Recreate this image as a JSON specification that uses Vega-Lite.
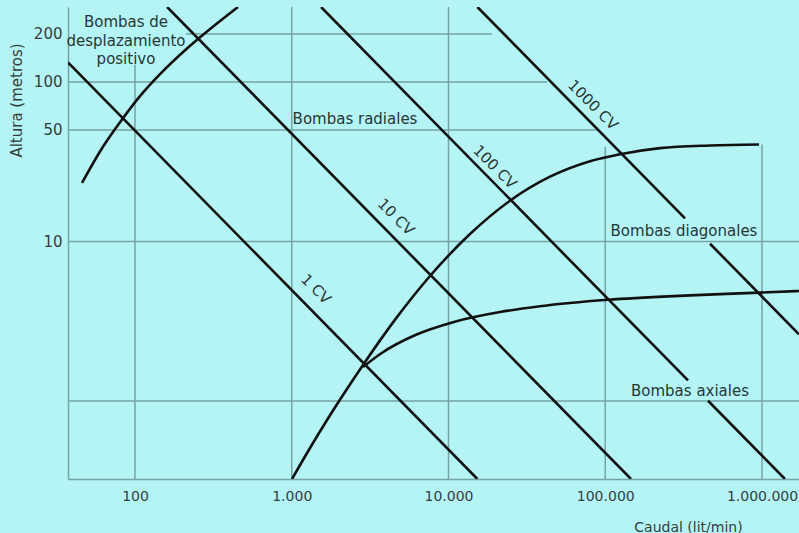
{
  "$schema": "https://vega.github.io/schema/vega-lite/v6.json",
  "width": 731,
  "height": 472,
  "autosize": {"type": "none"},
  "padding": {"left": 68, "top": 7, "right": 0, "bottom": 54},
  "background": "#b5f4f5",
  "config": {"view": {"stroke": null}, "font": "DejaVu Sans"},
  "datasets": {
    "vgrid": [
      {"q": 100, "h": 0.3243, "h2": 128},
      {"q": 1000, "h": 0.3243, "h2": 295.1},
      {"q": 10000, "h": 0.3243, "h2": 295.1},
      {"q": 100000, "h": 0.3243, "h2": 39.1},
      {"q": 1000000, "h": 0.3243, "h2": 40.58}
    ],
    "hgrid": [
      {"h": 200, "q": 211, "q2": 18950},
      {"h": 100, "q": 37.37, "q2": 42500},
      {"h": 50, "q": 37.37, "q2": 88600},
      {"h": 10, "q": 37.37, "q2": 1721900},
      {"h": 1, "q": 37.37, "q2": 1721900}
    ],
    "curves": [
      {"seg": "1 CV", "q": 37.37, "h": 132.6},
      {"seg": "1 CV", "q": 15280, "h": 0.3243},
      {"seg": "10 CV", "q": 160.3, "h": 295.1},
      {"seg": "10 CV", "q": 145900, "h": 0.3243},
      {"seg": "100 CV a", "q": 1538, "h": 295.1},
      {"seg": "100 CV a", "q": 337300, "h": 1.346},
      {"seg": "100 CV b", "q": 452400, "h": 1.0035},
      {"seg": "100 CV b", "q": 1400000, "h": 0.3243},
      {"seg": "1000 CV a", "q": 15280, "h": 295.1},
      {"seg": "1000 CV a", "q": 322800, "h": 13.97},
      {"seg": "1000 CV b", "q": 465900, "h": 9.68},
      {"seg": "1000 CV b", "q": 1721900, "h": 2.618},
      {"seg": "desplazamiento", "q": 45.9, "h": 23.27},
      {"seg": "desplazamiento", "q": 59.8, "h": 36.67},
      {"seg": "desplazamiento", "q": 82.6, "h": 58.12},
      {"seg": "desplazamiento", "q": 107.6, "h": 81.47},
      {"seg": "desplazamiento", "q": 144.4, "h": 111.9},
      {"seg": "desplazamiento", "q": 214.6, "h": 162.0},
      {"seg": "desplazamiento", "q": 287.9, "h": 207.0},
      {"seg": "desplazamiento", "q": 454, "h": 295.1},
      {"seg": "radiales", "q": 1004, "h": 0.3243},
      {"seg": "radiales", "q": 1307.6, "h": 0.5073},
      {"seg": "radiales", "q": 1679, "h": 0.7603},
      {"seg": "radiales", "q": 2186, "h": 1.139},
      {"seg": "radiales", "q": 2848, "h": 1.682},
      {"seg": "radiales", "q": 4626, "h": 3.295},
      {"seg": "radiales", "q": 7621, "h": 6.077},
      {"seg": "radiales", "q": 13715, "h": 11.14},
      {"seg": "radiales", "q": 24690, "h": 18.02},
      {"seg": "radiales", "q": 44410, "h": 25.48},
      {"seg": "radiales", "q": 79930, "h": 31.87},
      {"seg": "radiales", "q": 124200, "h": 35.26},
      {"seg": "radiales", "q": 223500, "h": 38.46},
      {"seg": "radiales", "q": 465900, "h": 39.99},
      {"seg": "radiales", "q": 957000, "h": 40.57},
      {"seg": "axiales", "q": 2848, "h": 1.634},
      {"seg": "axiales", "q": 3710, "h": 1.986},
      {"seg": "axiales", "q": 6203, "h": 2.6},
      {"seg": "axiales", "q": 10685, "h": 3.119},
      {"seg": "axiales", "q": 21310, "h": 3.609},
      {"seg": "axiales", "q": 38340, "h": 3.924},
      {"seg": "axiales", "q": 104100, "h": 4.31},
      {"seg": "axiales", "q": 318000, "h": 4.579},
      {"seg": "axiales", "q": 971000, "h": 4.782},
      {"seg": "axiales", "q": 1721900, "h": 4.894}
    ],
    "cvlabels": [
      {"text": "1 CV", "q": 1428, "h": 5.037},
      {"text": "10 CV", "q": 4624, "h": 14.24},
      {"text": "100 CV", "q": 19800, "h": 29.32},
      {"text": "1000 CV", "q": 83530, "h": 71.76}
    ],
    "labels": [
      {"text": "Bombas de\ndesplazamiento\npositivo", "q": 87.6, "h": 237},
      {"text": "Bombas radiales", "q": 2532, "h": 58.6},
      {"text": "Bombas diagonales", "q": 318000, "h": 11.64},
      {"text": "Bombas axiales", "q": 347300, "h": 1.155}
    ]
  },
  "layer": [
    {
      "data": {"name": "vgrid"},
      "mark": {"type": "rule", "color": "#76a3a4", "strokeWidth": 1.5},
      "encoding": {
        "x": {
          "field": "q", "type": "quantitative",
          "scale": {"type": "log", "domain": [37.37, 1721900], "nice": false},
          "axis": {
            "values": [100, 1000, 10000, 100000, 1000000],
            "labelExpr": "datum.value == 100 ? '100' : datum.value == 1000 ? '1.000' : datum.value == 10000 ? '10.000' : datum.value == 100000 ? '100.000' : '1.000.000'",
            "grid": false, "ticks": false,
            "domainColor": "#76a3a4", "domainWidth": 1.5,
            "labelFont": "DejaVu Sans", "labelFontSize": 14, "labelColor": "#333d3d",
            "labelPadding": 10, "labelFlush": false, "labelOverlap": false,
            "title": "Caudal (lit/min)", "titleFont": "DejaVu Sans", "titleFontSize": 14,
            "titleFontWeight": "normal", "titleColor": "#333d3d",
            "titleX": 620, "titleY": 48, "titleAlign": "center", "titleBaseline": "middle"
          }
        },
        "y": {
          "field": "h", "type": "quantitative",
          "scale": {"type": "log", "domain": [0.3243, 295.1], "nice": false},
          "axis": {
            "values": [10, 50, 100, 200], "format": "d",
            "grid": false, "ticks": false,
            "domainColor": "#76a3a4", "domainWidth": 1.5,
            "labelFont": "DejaVu Sans", "labelFontSize": 15, "labelColor": "#333d3d",
            "labelPadding": 6, "labelOverlap": false,
            "title": "Altura (metros)", "titleFont": "DejaVu Sans", "titleFontSize": 15,
            "titleFontWeight": "normal", "titleColor": "#333d3d",
            "titleX": -52, "titleY": 93, "titleAngle": -90, "titleAlign": "center", "titleBaseline": "middle"
          }
        },
        "y2": {"field": "h2"}
      }
    },
    {
      "data": {"name": "hgrid"},
      "mark": {"type": "rule", "color": "#76a3a4", "strokeWidth": 1.5},
      "encoding": {
        "y": {"field": "h", "type": "quantitative"},
        "x": {"field": "q", "type": "quantitative"},
        "x2": {"field": "q2"}
      }
    },
    {
      "data": {"name": "curves"},
      "mark": {"type": "line", "interpolate": "monotone", "color": "#111111", "strokeWidth": 2.6, "clip": true},
      "encoding": {
        "x": {"field": "q", "type": "quantitative"},
        "y": {"field": "h", "type": "quantitative"},
        "detail": {"field": "seg"}
      }
    },
    {
      "data": {"name": "cvlabels"},
      "mark": {"type": "text", "angle": 45, "align": "center", "baseline": "middle", "font": "DejaVu Sans", "fontSize": 15, "color": "#263636"},
      "encoding": {
        "x": {"field": "q", "type": "quantitative"},
        "y": {"field": "h", "type": "quantitative"},
        "text": {"field": "text"}
      }
    },
    {
      "data": {"name": "labels"},
      "mark": {"type": "text", "align": "center", "baseline": "middle", "lineBreak": "\n", "lineHeight": 18.5, "font": "DejaVu Sans", "fontSize": 15, "color": "#263636"},
      "encoding": {
        "x": {"field": "q", "type": "quantitative"},
        "y": {"field": "h", "type": "quantitative"},
        "text": {"field": "text"}
      }
    }
  ]
}
